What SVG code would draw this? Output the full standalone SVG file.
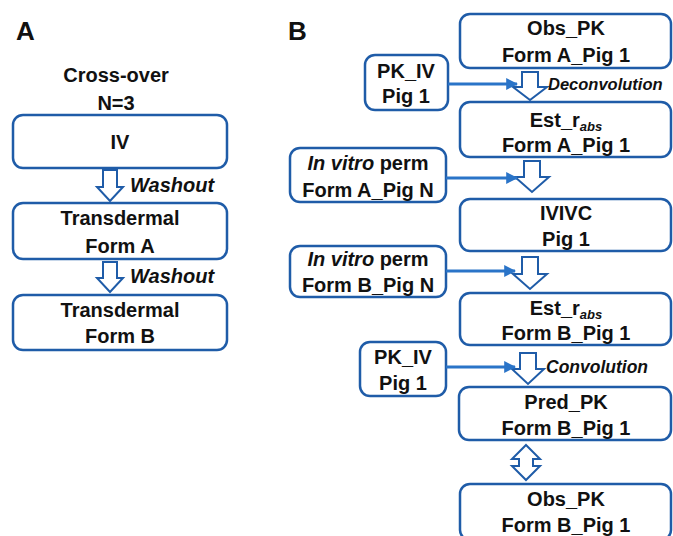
<svg xmlns="http://www.w3.org/2000/svg" width="673" height="536" viewBox="0 0 673 536">
<defs>
<style>
.box{fill:#fff;stroke:#1f5ca8;stroke-width:2.5}
.t{font-family:"Liberation Sans",Arial,sans-serif;font-weight:bold;font-size:20px;fill:#111;text-anchor:middle}
.lbl{font-family:"Liberation Sans",Arial,sans-serif;font-weight:bold;font-style:italic;font-size:20px;fill:#111}
.hd{font-family:"Liberation Sans",Arial,sans-serif;font-weight:bold;font-size:26px;fill:#111}
.hol{fill:#fff;stroke:#1f5ca8;stroke-width:2}
.ln{stroke:#2a74c8;stroke-width:3;fill:none}
.sub{font-style:italic;font-size:13px}
</style>
<marker id="ah" viewBox="0 0 10 10" refX="9" refY="5" markerWidth="4" markerHeight="4" orient="auto" markerUnits="strokeWidth">
<path d="M0,0 L10,5 L0,10 z" fill="#2a74c8"/>
</marker>
</defs>
<rect width="673" height="536" fill="#fff"/>
<text class="hd" x="16" y="40">A</text>
<text class="hd" x="288" y="40">B</text>
<g id="crossover">
<text class="t" x="116" y="82">Cross-over</text>
<text class="t" x="116" y="110">N=3</text>
</g>
<g id="iv"><rect class="box" x="13" y="115" width="214" height="53" rx="10"/><text class="t" x="120" y="149">IV</text></g>
<g id="tdA"><rect class="box" x="13" y="203" width="214" height="56" rx="10"/><text class="t" x="120" y="225">Transdermal</text><text class="t" x="120" y="253">Form A</text></g>
<g id="tdB"><rect class="box" x="13" y="295" width="214" height="55" rx="10"/><text class="t" x="120" y="317">Transdermal</text><text class="t" x="120" y="343">Form B</text></g>

<g id="obsA"><rect class="box" x="460" y="14" width="211" height="54" rx="10"/><text class="t" x="566" y="35">Obs_PK</text><text class="t" x="566" y="62">Form A_Pig 1</text></g>
<g id="pkiv1"><rect class="box" x="365" y="55" width="83" height="55" rx="10"/><text class="t" x="406" y="78">PK_IV</text><text class="t" x="406" y="103">Pig 1</text></g>
<g id="estA"><rect class="box" x="460" y="102" width="211" height="55" rx="10"/><text class="t" x="566" y="127">Est_r<tspan class="sub" dy="4">abs</tspan></text><text class="t" x="566" y="152">Form A_Pig 1</text></g>
<g id="invA"><rect class="box" x="290" y="148" width="156" height="54" rx="10"/><text class="t" x="368" y="170"><tspan font-style="italic">In vitro</tspan> perm</text><text class="t" x="368" y="197">Form A_Pig N</text></g>
<g id="ivivc"><rect class="box" x="460" y="199" width="211" height="52" rx="10"/><text class="t" x="566" y="220">IVIVC</text><text class="t" x="566" y="246">Pig 1</text></g>
<g id="invB"><rect class="box" x="290" y="246" width="156" height="51" rx="10"/><text class="t" x="368" y="266"><tspan font-style="italic">In vitro</tspan> perm</text><text class="t" x="368" y="292">Form B_Pig N</text></g>
<g id="estB"><rect class="box" x="460" y="293" width="211" height="52" rx="10"/><text class="t" x="566" y="315">Est_r<tspan class="sub" dy="4">abs</tspan></text><text class="t" x="566" y="340">Form B_Pig 1</text></g>
<g id="pkiv2"><rect class="box" x="360" y="342" width="86" height="54" rx="10"/><text class="t" x="403" y="364">PK_IV</text><text class="t" x="403" y="390">Pig 1</text></g>
<g id="predB"><rect class="box" x="459" y="387" width="212" height="53" rx="10"/><text class="t" x="566" y="409">Pred_PK</text><text class="t" x="566" y="435">Form B_Pig 1</text></g>
<g id="obsB"><rect class="box" x="460" y="484" width="211" height="56" rx="10"/><text class="t" x="566" y="506">Obs_PK</text><text class="t" x="566" y="532">Form B_Pig 1</text></g>

<g id="connectors">
<path class="hol" d="M103,170 H117 V187 H123 L110,201 L97,187 H103 Z"/>
<text class="lbl" x="130" y="192">Washout</text>
<path class="hol" d="M103,262 H117 V278 H123 L110,292 L97,278 H103 Z"/>
<text class="lbl" x="130" y="283">Washout</text>

<path class="hol" d="M522,72 H538 V87 H547 L530,100 L513,87 H522 Z"/>
<text class="lbl" x="548" y="90" style="font-size:16.5px">Deconvolution</text>
<line class="ln" x1="448" y1="84" x2="517" y2="84" marker-end="url(#ah)"/>

<path class="hol" d="M524,161 H540 V177 H549 L532,192 L515,177 H524 Z"/>
<line class="ln" x1="446" y1="178" x2="517" y2="178" marker-end="url(#ah)"/>

<path class="hol" d="M522,257 H538 V274 H547 L530,289 L513,274 H522 Z"/>
<line class="ln" x1="446" y1="271" x2="515" y2="271" marker-end="url(#ah)"/>

<path class="hol" d="M520,353 H536 V369 H544 L528,384 L512,369 H520 Z"/>
<text class="lbl" x="546" y="373" style="font-size:17.5px">Convolution</text>
<line class="ln" x1="446" y1="367" x2="515" y2="367" marker-end="url(#ah)"/>

<path class="hol" d="M526,445 L540,459 H533 V466 H540 L526,480 L512,466 H519 V459 H512 Z"/>
</g>
</svg>
